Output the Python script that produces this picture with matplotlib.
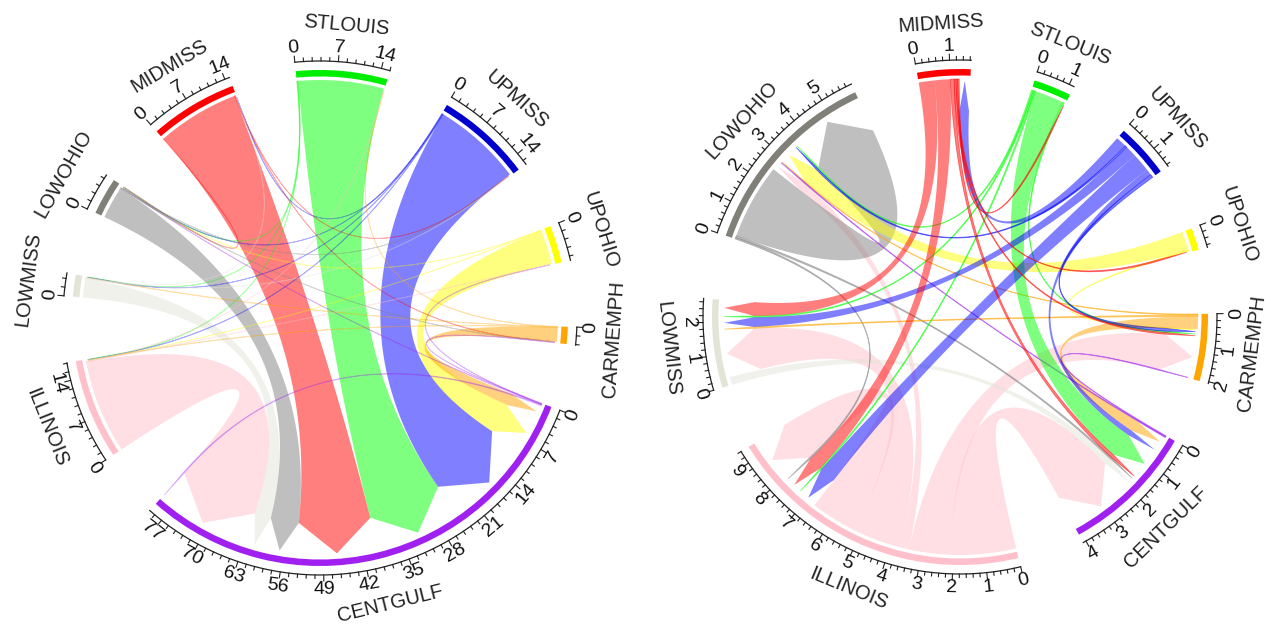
import numpy as np
import matplotlib.pyplot as plt
from matplotlib.patches import Polygon, Wedge

plt.rcParams['font.family'] = ['Liberation Sans', 'DejaVu Sans']

W, H = 1274, 624

# sectors in clockwise order
sectors = ["MIDMISS", "STLOUIS", "UPMISS", "UPOHIO", "CARMEMPH",
           "CENTGULF", "ILLINOIS", "LOWMISS", "LOWOHIO"]
bar_colors = ["#FF0000", "#00EE00", "#0000CD", "#FFFF00", "#FFA500",
              "#A020F0", "#FFC0CB", "#E2E4D6", "#808078"]
link_colors = ["#FF0000", "#00FF00", "#0000FF", "#FFFF00", "#FFA500",
               "#A020F0", "#FFC0CB", "#E2E4D6", "#808080"]

# left chart: flows (source -> target, value)
left_src = ["ILLINOIS", "LOWMISS", "LOWOHIO", "MIDMISS", "STLOUIS", "UPMISS",
            "UPOHIO", "CARMEMPH", "CENTGULF",
            "MIDMISS", "MIDMISS", "MIDMISS", "STLOUIS", "STLOUIS", "STLOUIS",
            "UPMISS", "UPMISS", "UPMISS", "UPMISS", "UPOHIO", "UPOHIO",
            "CARMEMPH", "CARMEMPH", "CARMEMPH", "CENTGULF", "CENTGULF", "CENTGULF",
            "LOWOHIO", "LOWOHIO", "ILLINOIS", "ILLINOIS", "LOWMISS", "LOWMISS"]
left_dst = ["CENTGULF", "CENTGULF", "CENTGULF", "CENTGULF", "CENTGULF", "CENTGULF",
            "CENTGULF", "CENTGULF", "CENTGULF",
            "UPMISS", "LOWOHIO", "CARMEMPH", "LOWOHIO", "LOWMISS", "ILLINOIS",
            "LOWOHIO", "LOWMISS", "MIDMISS", "ILLINOIS", "LOWOHIO", "ILLINOIS",
            "LOWMISS", "ILLINOIS", "STLOUIS", "UPOHIO", "CARMEMPH", "LOWOHIO",
            "UPMISS", "CARMEMPH", "STLOUIS", "UPOHIO", "UPMISS", "MIDMISS"]
left_val = [16.4, 3.3, 5.7, 14.4, 15.0, 15.6, 6.0, 2.4, 0.2,
            0.08, 0.08, 0.08, 0.08, 0.08, 0.08,
            0.08, 0.08, 0.08, 0.08, 0.08, 0.08,
            0.08, 0.08, 0.08, 0.08, 0.08, 0.08,
            0.08, 0.08, 0.08, 0.08, 0.08, 0.08]

# right chart: flows (source -> target, value)
right_src = ["ILLINOIS", "ILLINOIS", "ILLINOIS", "ILLINOIS", "ILLINOIS",
             "LOWMISS", "LOWOHIO", "LOWOHIO", "LOWOHIO", "UPOHIO", "UPOHIO",
             "CARMEMPH", "CARMEMPH", "CARMEMPH", "CENTGULF", "CENTGULF",
             "STLOUIS", "STLOUIS", "STLOUIS", "STLOUIS", "STLOUIS",
             "UPMISS", "UPMISS", "UPMISS", "UPMISS", "UPMISS", "UPMISS",
             "MIDMISS", "MIDMISS", "MIDMISS", "MIDMISS", "MIDMISS", "MIDMISS"]
right_dst = ["CENTGULF", "CARMEMPH", "LOWOHIO", "LOWMISS", "ILLINOIS",
             "CENTGULF", "LOWOHIO", "CENTGULF", "ILLINOIS", "LOWOHIO", "CARMEMPH",
             "CENTGULF", "LOWMISS", "LOWOHIO", "LOWOHIO", "CARMEMPH",
             "CENTGULF", "LOWMISS", "ILLINOIS", "CARMEMPH", "LOWOHIO",
             "MIDMISS", "LOWMISS", "ILLINOIS", "CENTGULF", "CARMEMPH", "LOWOHIO",
             "LOWMISS", "ILLINOIS", "CENTGULF", "CARMEMPH", "STLOUIS", "UPOHIO"]
right_val = [2.1, 1.3, 0.3, 1.5, 1.5,
             0.25, 2.4, 0.06, 0.05, 0.6, 0.03,
             0.4, 0.05, 0.03, 0.03, 0.03,
             0.9, 0.05, 0.05, 0.05, 0.05,
             0.35, 0.35, 0.6, 0.2, 0.1, 0.06,
             0.5, 0.5, 0.12, 0.06, 0.05, 0.05]

# layout
GAP = 15.0
R_SRC, R_SH, R_TIP = 238, 206, 236
R_BAR_IN, R_BAR_OUT = 241.5, 248
R_AXIS, R_TLAB, R_NAME = 257, 271, 294


def pt(c, r, a):
    a = np.radians(a)
    return np.array([c[0] + r * np.cos(a), c[1] + r * np.sin(a)])


def arc(c, r, a0, a1, n=30):
    a = np.radians(np.linspace(a0, a1, n))
    return np.column_stack([c[0] + r * np.cos(a), c[1] + r * np.sin(a)])


def bezier(p0, p2, c, n=60):
    t = np.linspace(0, 1, n)[:, None]
    c = np.asarray(c)
    return (1 - t) ** 2 * p0 + 2 * (1 - t) * t * c + t ** 2 * p2


def text_rot(a):
    a = a % 360
    return a - 90 if 0 <= a <= 180 else a + 90


def allocate(src, dst, val):
    n = len(sectors)
    idx = {s: i for i, s in enumerate(sectors)}
    ends = {s: [] for s in sectors}
    for i, (a, b) in enumerate(zip(src, dst)):
        ends[a].append((0, -((idx[b] - idx[a]) % n), i, 'out'))
        ends[b].append((1, -((idx[a] - idx[b]) % n), i, 'in'))
    totals, pos = {}, {}
    for s in sectors:
        u = 0.0
        for g, key, i, role in sorted(ends[s]):
            pos[(i, role)] = (u, u + val[i])
            u += val[i]
        totals[s] = u
    return totals, pos


def chord_diagram(ax, c, start, src, dst, val, step, thin_alpha):
    totals, pos = allocate(src, dst, val)
    k = (360 - GAP * len(sectors)) / sum(totals.values())
    starts = {}
    a = start
    for s in sectors:
        starts[s] = a
        a = a - totals[s] * k - GAP

    def ang(s, u):
        return starts[s] - u * k

    # links
    for i, (s, d) in enumerate(zip(src, dst)):
        u0, u1 = pos[(i, 'out')]
        w0, w1 = pos[(i, 'in')]
        A0, A1 = ang(s, u0), ang(s, u1)
        B0, B1 = ang(d, w0), ang(d, w1)
        p = [arc(c, R_SRC, A0, A1),
             bezier(pt(c, R_SRC, A1), pt(c, R_SH, B0), c),
             [pt(c, R_TIP, (B0 + B1) / 2)],
             bezier(pt(c, R_SH, B1), pt(c, R_SRC, A0), c)]
        col = link_colors[sectors.index(s)]
        thin = val[i] * k < 1.0
        ax.add_patch(Polygon(np.vstack(p), closed=True, facecolor=col,
                             edgecolor=col if thin else 'none',
                             lw=0.6 if thin else 0,
                             alpha=thin_alpha if thin else 0.5))

    # sector bars, axes, labels
    for j, s in enumerate(sectors):
        a0, a1 = starts[s], ang(s, totals[s])
        ax.add_patch(Wedge(c, R_BAR_OUT, a1, a0, width=R_BAR_OUT - R_BAR_IN,
                           facecolor=bar_colors[j], edgecolor='none'))
        xy = arc(c, R_AXIS, a0, a1, 60)
        ax.plot(xy[:, 0], xy[:, 1], color='#222222', lw=0.9)
        minor = step / 5
        for m in range(int(totals[s] / minor + 1e-9) + 1):
            u = m * minor
            t = ang(s, u)
            big = m % 5 == 0
            p0, p1 = pt(c, R_AXIS, t), pt(c, R_AXIS + (6 if big else 3.5), t)
            ax.plot([p0[0], p1[0]], [p0[1], p1[1]], color='#222222', lw=0.8)
            if big:
                q = pt(c, R_TLAB, t)
                ax.text(q[0], q[1], str(int(round(u))), fontsize=14,
                        color='#111111', ha='center', va='center',
                        rotation=text_rot(t), rotation_mode='anchor')
        mid = (a0 + a1) / 2
        q = pt(c, R_NAME, mid)
        ax.text(q[0], q[1], s, fontsize=14.5, color='#222222', ha='center',
                va='center', rotation=text_rot(mid), rotation_mode='anchor')


fig = plt.figure(figsize=(W / 100, H / 100), dpi=100)
ax = fig.add_axes([0, 0, 1, 1])
ax.set_xlim(0, W)
ax.set_ylim(0, H)
ax.axis('off')

chord_diagram(ax, (320, 306), 131.2, left_src, left_dst, left_val, 7, 0.28)
chord_diagram(ax, (960, 307), 100.0, right_src, right_dst, right_val, 1, 0.5)

fig.savefig('out.png', dpi=100)
